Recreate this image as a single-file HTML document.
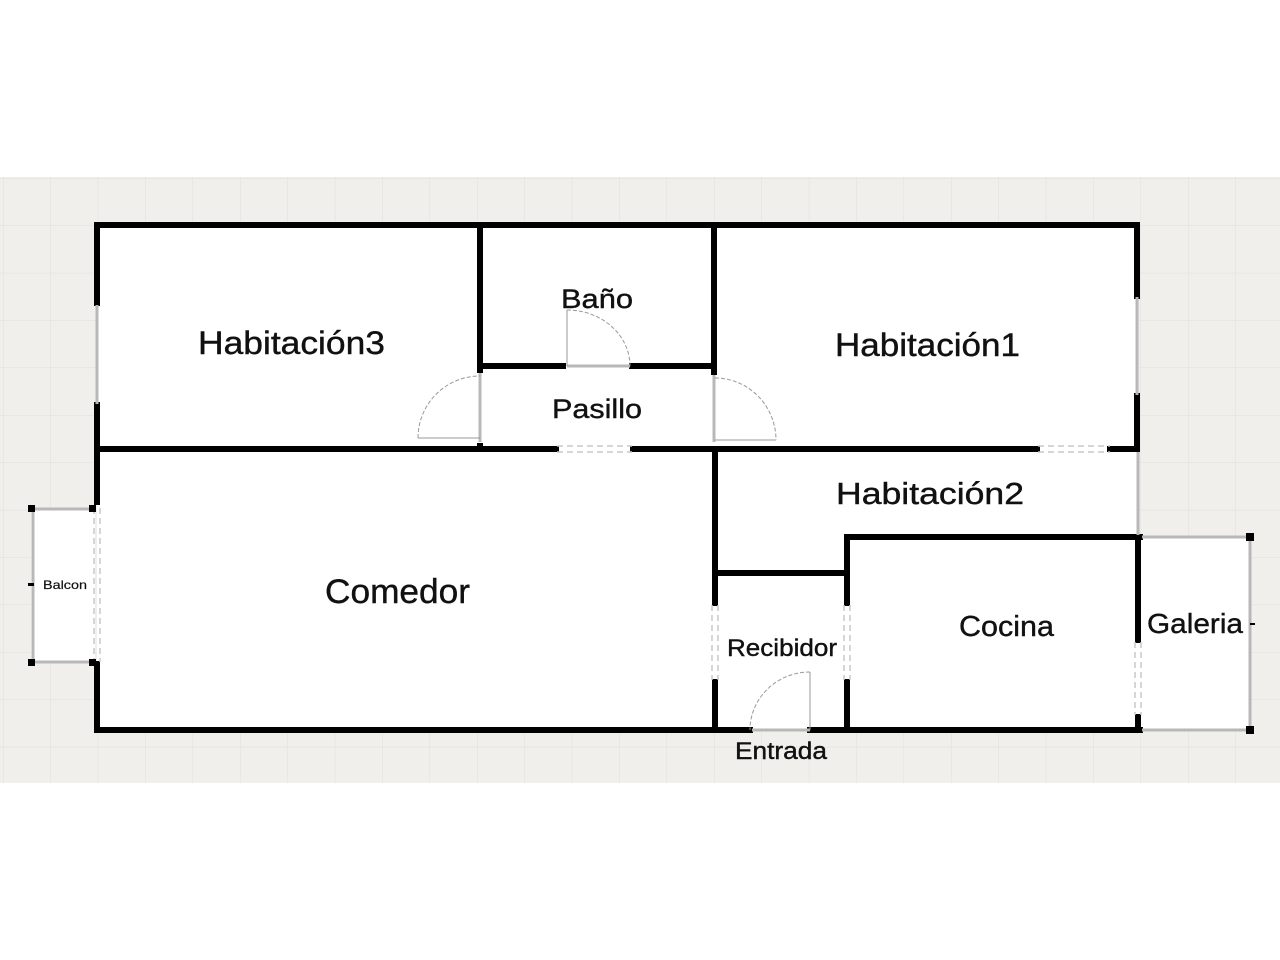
<!DOCTYPE html>
<html><head><meta charset="utf-8"><style>
html,body{margin:0;padding:0;background:#fff;width:1280px;height:960px;overflow:hidden}
svg{display:block}
text{font-family:"Liberation Sans",sans-serif;fill:#111;stroke:#111;stroke-width:0.4}
</style></head><body>
<svg width="1280" height="960" viewBox="0 0 1280 960">
<defs>
<pattern id="g" x="3" y="178" width="47.4" height="47.4" patternUnits="userSpaceOnUse">
<rect width="47.4" height="47.4" fill="#f0efec"/>
<path d="M0 0H47.4M0 0V47.4" stroke="#e0dfdb" stroke-width="1"/>
</pattern>
</defs>
<rect x="0" y="177" width="1280" height="606" fill="url(#g)"/>
<rect x="97" y="225" width="1041" height="505" fill="#fff"/>
<rect x="31" y="508" width="64" height="154" fill="#fff"/>
<rect x="1138" y="537" width="113" height="193" fill="#fff"/>
<rect x="1139" y="452" width="141" height="84" fill="url(#g)"/>

<g stroke="#000" stroke-width="6" fill="none" stroke-linecap="square">
<path d="M97 225H1137"/>
<path d="M97 225V303M97 405V449M97 449V502M97 664V730"/>
<path d="M1137 225V296M1137 396V449"/>
<path d="M97 449H556M633 449H1037M1110 449H1137"/>
<path d="M480 225V370M714 225V372M480 366H563M632 366H714"/>
<path d="M480 446V449"/>
<path d="M715 449V603M715 682V730"/>
<path d="M715 573H847"/>
<path d="M847 537V603M847 682V730M847 537H1140M1138 537V640M1138 717V730"/>
<path d="M97 730H750M810 730H1140"/>
</g>
<g stroke="#b8b8b8" stroke-width="3" fill="none">
<path d="M97 305V404M1137 297V395"/>
<path d="M480 373V442M714 375V442"/>
<path d="M1138 452V535"/>
<path d="M33 509H92M33 662H92M33 509V662"/>
<path d="M1142 537H1250M1142 730H1250M1250 537V730"/>
<path d="M567 366H630M752 730H810"/>
</g>
<g stroke="#c8c8c8" stroke-width="1.5" fill="none" stroke-dasharray="6 4">
<path d="M557 446H632M557 452H632"/>
<path d="M1038 446H1110M1038 452H1110"/>
<path d="M94 508V662M100 508V662"/>
<path d="M712 605V680M718 605V680"/>
<path d="M844 605V680M850 605V680"/>
<path d="M1135 642V715M1141 642V715"/>
</g>
<g stroke="#999" stroke-width="1" fill="none">
<path d="M567 366V310"/><path d="M567 310A63 56 0 0 1 630 366" stroke-dasharray="4 2"/>
<path d="M480 438H418"/><path d="M418 438A62 62 0 0 1 480 376" stroke-dasharray="4 2"/>
<path d="M715 440H776"/><path d="M715 378A61 62 0 0 1 776 440" stroke-dasharray="4 2"/>
<path d="M810 730V672"/><path d="M810 672A60 58 0 0 0 750 730" stroke-dasharray="4 2"/>
</g>
<g fill="#000">
<rect x="28" y="505" width="7" height="7"/><rect x="28" y="659" width="7" height="7"/>
<rect x="89" y="505" width="7" height="7"/><rect x="89" y="659" width="7" height="7"/>
<rect x="28" y="583" width="6" height="3"/>
<rect x="1246" y="533" width="8" height="8"/><rect x="1246" y="726" width="8" height="8"/>
<rect x="1250" y="623" width="5" height="2"/>
</g>
<g lengthAdjust="spacingAndGlyphs">
<text x="198" y="354" font-size="32" textLength="187" lengthAdjust="spacingAndGlyphs">Habitación3</text>
<text x="561" y="308" font-size="27" textLength="72" lengthAdjust="spacingAndGlyphs">Baño</text>
<text x="552" y="418" font-size="27" textLength="90" lengthAdjust="spacingAndGlyphs">Pasillo</text>
<text x="835" y="356" font-size="32" textLength="185" lengthAdjust="spacingAndGlyphs">Habitación1</text>
<text x="836" y="504" font-size="31" textLength="188" lengthAdjust="spacingAndGlyphs">Habitación2</text>
<text x="325" y="603" font-size="34" textLength="145" lengthAdjust="spacingAndGlyphs">Comedor</text>
<text x="727" y="656" font-size="24" textLength="110" lengthAdjust="spacingAndGlyphs">Recibidor</text>
<text x="959" y="636" font-size="29" textLength="95" lengthAdjust="spacingAndGlyphs">Cocina</text>
<text x="1147" y="633" font-size="28" textLength="96" lengthAdjust="spacingAndGlyphs">Galeria</text>
<text x="735" y="759" font-size="24" textLength="92" lengthAdjust="spacingAndGlyphs">Entrada</text>
<text x="43" y="589" font-size="12" textLength="44" lengthAdjust="spacingAndGlyphs" style="stroke-width:0.2">Balcon</text>
</g>
</svg>
</body></html>
